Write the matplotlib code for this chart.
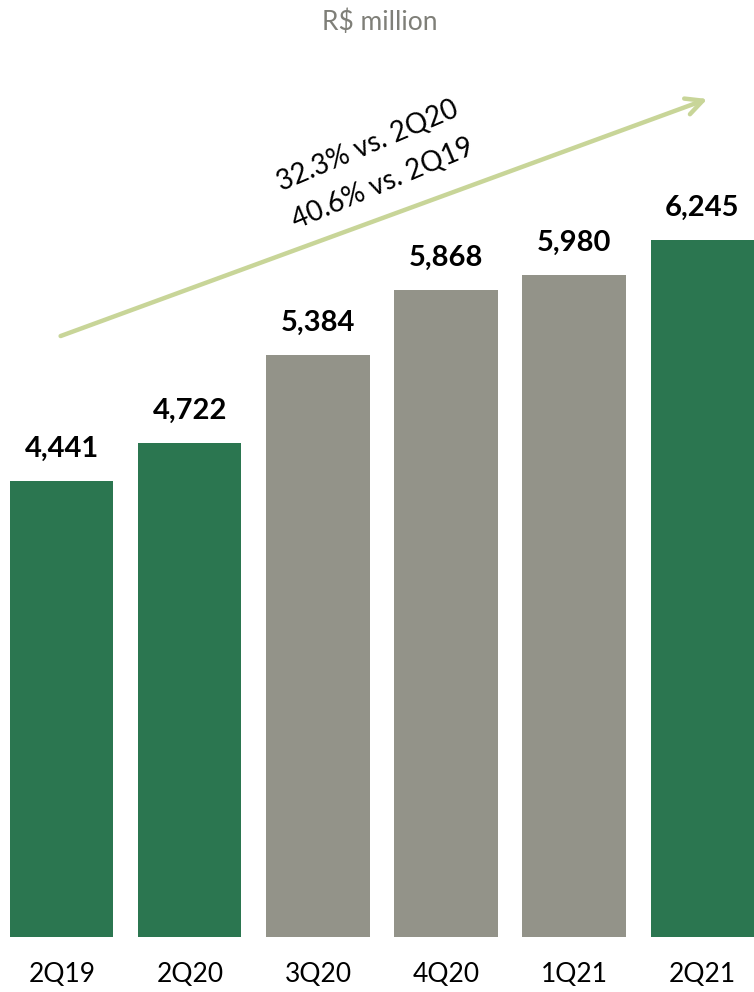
import matplotlib.pyplot as plt

quarters = ["2Q19", "2Q20", "3Q20", "4Q20", "1Q21", "2Q21"]
revenue = [4441, 4722, 5384, 5868, 5980, 6245]
highlight = [True, True, False, False, False, True]

GREEN = "#2b7650"
GREY = "#939389"
ARROW = "#c8d598"

plt.rcParams["font.family"] = ["Lato", "DejaVu Sans"]

fig = plt.figure(figsize=(7.54, 9.92), dpi=100)
ax = fig.add_axes([0, 55 / 992, 1, 937 / 992])

x = range(len(quarters))
colors = [GREEN if h else GREY for h in highlight]
bars = ax.bar(x, revenue, width=0.805, color=colors)

for rect, v in zip(bars, revenue):
    ax.annotate(f"{v:,}", (rect.get_x() + rect.get_width() / 2, v),
                xytext=(0, 14), textcoords="offset points",
                ha="center", va="bottom", fontsize=21, fontweight="bold",
                color="black")

ax.set_xlim(-0.484, 5.406)
ax.set_ylim(1028, 8041)
ax.axis("off")

# quarter labels under the bars
for i, q in enumerate(quarters):
    ax.annotate(q, (i, 1028), xytext=(0, -27), textcoords="offset points",
                ha="center", va="center", fontsize=19, color="black",
                annotation_clip=False)

fig.text(0.504, 1 - 22 / 992, "R$ million", ha="center", va="center",
         fontsize=19, color="#7f7f78")

# growth arrow with rotated comparison text
fig.patches.append(plt.matplotlib.patches.FancyArrowPatch(
    (58 / 754, 1 - 337 / 992), (710 / 754, 1 - 98 / 992),
    transform=fig.transFigure, arrowstyle="->,head_length=12,head_width=6",
    color=ARROW, lw=3.2, mutation_scale=1))
fig.text(368 / 754, 1 - 146 / 992, "32.3% vs. 2Q20", ha="center", va="center",
         rotation=23, fontsize=20, color="black", rotation_mode="anchor")
fig.text(383 / 754, 1 - 184 / 992, "40.6% vs. 2Q19", ha="center", va="center",
         rotation=23, fontsize=20, color="black", rotation_mode="anchor")

fig.savefig("out.png", dpi=100)
